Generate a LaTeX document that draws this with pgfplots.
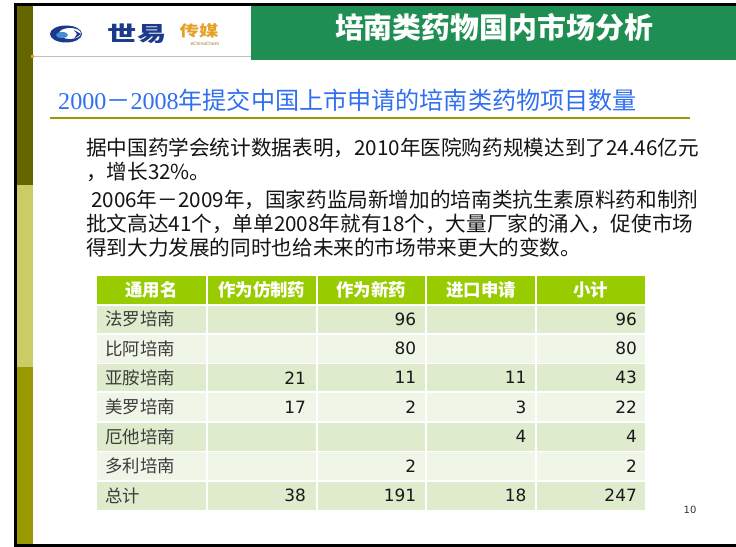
\documentclass[border=0pt]{standalone}
\usepackage{pgfplots}
\pgfplotsset{compat=1.18}
\usepackage{pgfplotstable}
\usepackage{fontspec}
\setmainfont{DejaVu Sans}
\newfontfamily\cjk{Noto Sans CJK SC}
\newfontfamily\num{DejaVu Sans}
\newfontfamily\serif{Liberation Serif}
\definecolor{titlegreen}{RGB}{31,142,82}
\definecolor{hdrgreen}{RGB}{153,204,0}
\definecolor{rowdark}{RGB}{222,235,205}
\definecolor{rowlight}{RGB}{239,245,231}
\definecolor{olive}{RGB}{153,153,0}
\definecolor{darkolive}{RGB}{102,102,0}
\definecolor{lightolive}{RGB}{204,204,102}
\definecolor{subblue}{RGB}{48,112,240}
\definecolor{logoblue}{RGB}{28,58,140}
\definecolor{logolight}{RGB}{70,140,210}
\definecolor{logoorange}{RGB}{230,160,40}
\definecolor{labelgray}{RGB}{60,60,60}

% table values: column (2..5), row (1..7), value
\pgfplotstableread{
col row val
3 1 96
5 1 96
3 2 80
5 2 80
2 3 21
3 3 11
4 3 11
5 3 43
2 4 17
3 4 2
4 4 3
5 4 22
4 5 4
5 5 4
3 6 2
5 6 2
2 7 38
3 7 191
4 7 18
5 7 247
}\cells

\begin{document}
\begin{tikzpicture}[x=1bp,y=-1bp]
\path[use as bounding box] (0,0) rectangle (736,547);
\fill[white] (0,0) rectangle (736,547);
% frame
\fill[black] (14,3) rectangle (736,6);
\fill[black] (14,3) rectangle (17,547);
\fill[black] (14,544) rectangle (736,547);
% left strip
\fill[darkolive] (17,6) rectangle (33,185);
\fill[lightolive] (17,185) rectangle (33,367);
\fill[olive] (17,367) rectangle (33,544);
% header
\fill[titlegreen] (251,6) rectangle (736,60);
\draw[gray!50, line width=1bp] (33,57) -- (251,57);
\fill[logoorange] (31,55) rectangle (34,58);
\node[anchor=center, inner sep=0pt, text=white] at (494,27)
  {\cjk\bfseries\fontsize{29}{29}\selectfont 培南类药物国内市场分析};
% logo
\fill[logoblue] (66,34) ellipse [x radius=16, y radius=8.5];
\fill[white] (70,33.5) ellipse [x radius=11, y radius=5.5];
\fill[logolight] (62,35) ellipse [x radius=6, y radius=3];
\fill[logoblue] (74,30) -- (81,34) -- (74,39) -- (77,34) -- cycle;
\node[anchor=center, inner sep=0pt, text=logoblue, xscale=1.4] at (137,34)
  {\cjk\bfseries\fontsize{21}{21}\selectfont 世易};
\node[anchor=center, inner sep=0pt, text=logoorange, xscale=1.3] at (199,31)
  {\cjk\bfseries\fontsize{15}{15}\selectfont 传媒};
\node[anchor=center, inner sep=0pt, text=logoorange!70!black] at (205,44)
  {\num\fontsize{4.5}{4.5}\selectfont eChinaChem};
% subtitle
\node[anchor=base west, inner sep=0pt, text=subblue] at (58,110)
  {\fontsize{24.2}{24.2}\selectfont{\serif 2000}{\cjk －}{\serif 2008}{\cjk 年提交中国上市申请的培南类药物项目数量}};
\draw[olive, line width=2bp] (50,118) -- (690,118);
% body text
\begin{scope}[every node/.style={anchor=base west, inner sep=0pt, text=black!92}]
\node at (86,156) {\cjk\fontsize{20.7}{20.7}\selectfont 据中国药学会统计数据表明，2010年医院购药规模达到了24.46亿元};
\node at (86,180) {\cjk\fontsize{20.7}{20.7}\selectfont ，增长32\%。};
\node at (91,208) {\cjk\fontsize{20.7}{20.7}\selectfont 2006年－2009年，国家药监局新增加的培南类抗生素原料药和制剂};
\node at (86,232) {\cjk\fontsize{20.7}{20.7}\selectfont 批文高达41个，单单2008年就有18个，大量厂家的涌入，促使市场};
\node at (86,256) {\cjk\fontsize{20.7}{20.7}\selectfont 得到大力发展的同时也给未来的市场带来更大的变数。};
\end{scope}
% table background
\fill[hdrgreen] (97,276) rectangle (645,303.5);
\fill[rowdark]  (97,305.5) rectangle (645,333);
\fill[rowlight] (97,334.5) rectangle (645,362.5);
\fill[rowdark]  (97,364) rectangle (645,391);
\fill[rowlight] (97,393) rectangle (645,420.5);
\fill[rowdark]  (97,422.5) rectangle (645,450.5);
\fill[rowlight] (97,452) rectangle (645,480);
\fill[rowdark]  (97,482) rectangle (645,509.5);
\foreach \xx in {206.8,316.8,426,536} {\draw[white, line width=1.8bp] (\xx,276) -- (\xx,510);}
% header labels
\begin{scope}[every node/.style={anchor=center, inner sep=0pt, text=white}]
\node at (151.5,290) {\cjk\bfseries\fontsize{17.5}{17.5}\selectfont 通用名};
\node at (261.8,290) {\cjk\bfseries\fontsize{17.5}{17.5}\selectfont 作为仿制药};
\node at (371.4,290) {\cjk\bfseries\fontsize{17.5}{17.5}\selectfont 作为新药};
\node at (481,290) {\cjk\bfseries\fontsize{17.5}{17.5}\selectfont 进口申请};
\node at (590.5,290) {\cjk\bfseries\fontsize{17.5}{17.5}\selectfont 小计};
\end{scope}
% row labels
\begin{scope}[every node/.style={anchor=west, inner sep=0pt, text=labelgray}]
\node at (105,319) {\cjk\fontsize{17.5}{17.5}\selectfont 法罗培南};
\node at (105,348.4) {\cjk\fontsize{17.5}{17.5}\selectfont 比阿培南};
\node at (105,377.8) {\cjk\fontsize{17.5}{17.5}\selectfont 亚胺培南};
\node at (105,407.2) {\cjk\fontsize{17.5}{17.5}\selectfont 美罗培南};
\node at (105,436.6) {\cjk\fontsize{17.5}{17.5}\selectfont 厄他培南};
\node at (105,466) {\cjk\fontsize{17.5}{17.5}\selectfont 多利培南};
\node at (105,495.4) {\cjk\fontsize{17.5}{17.5}\selectfont 总计};
\end{scope}
% page number
\node[anchor=center, inner sep=0pt, text=black!80] at (690,510) {\num\fontsize{10}{10}\selectfont 10};
% table values through a pgfplots axis (pixel frame, y downward)
\begin{axis}[
  at={(0,547)}, anchor=south west,
  width=736bp, height=547bp, scale only axis,
  xmin=0, xmax=736, ymin=0, ymax=547, y dir=reverse,
  hide axis, clip=false,
  nodes near coords,
  point meta=explicit symbolic,
  every node near coord/.append style={anchor=east, inner sep=0pt,
     font=\num\fontsize{17}{17}\selectfont, text=black!90},
]
\addplot[only marks, mark=none] table[
   x expr={306+(\thisrow{col}-2)*110.33},
   y expr={319+(\thisrow{row}-1)*29.4},
   meta=val] {\cells};
\end{axis}
\end{tikzpicture}
\end{document}
